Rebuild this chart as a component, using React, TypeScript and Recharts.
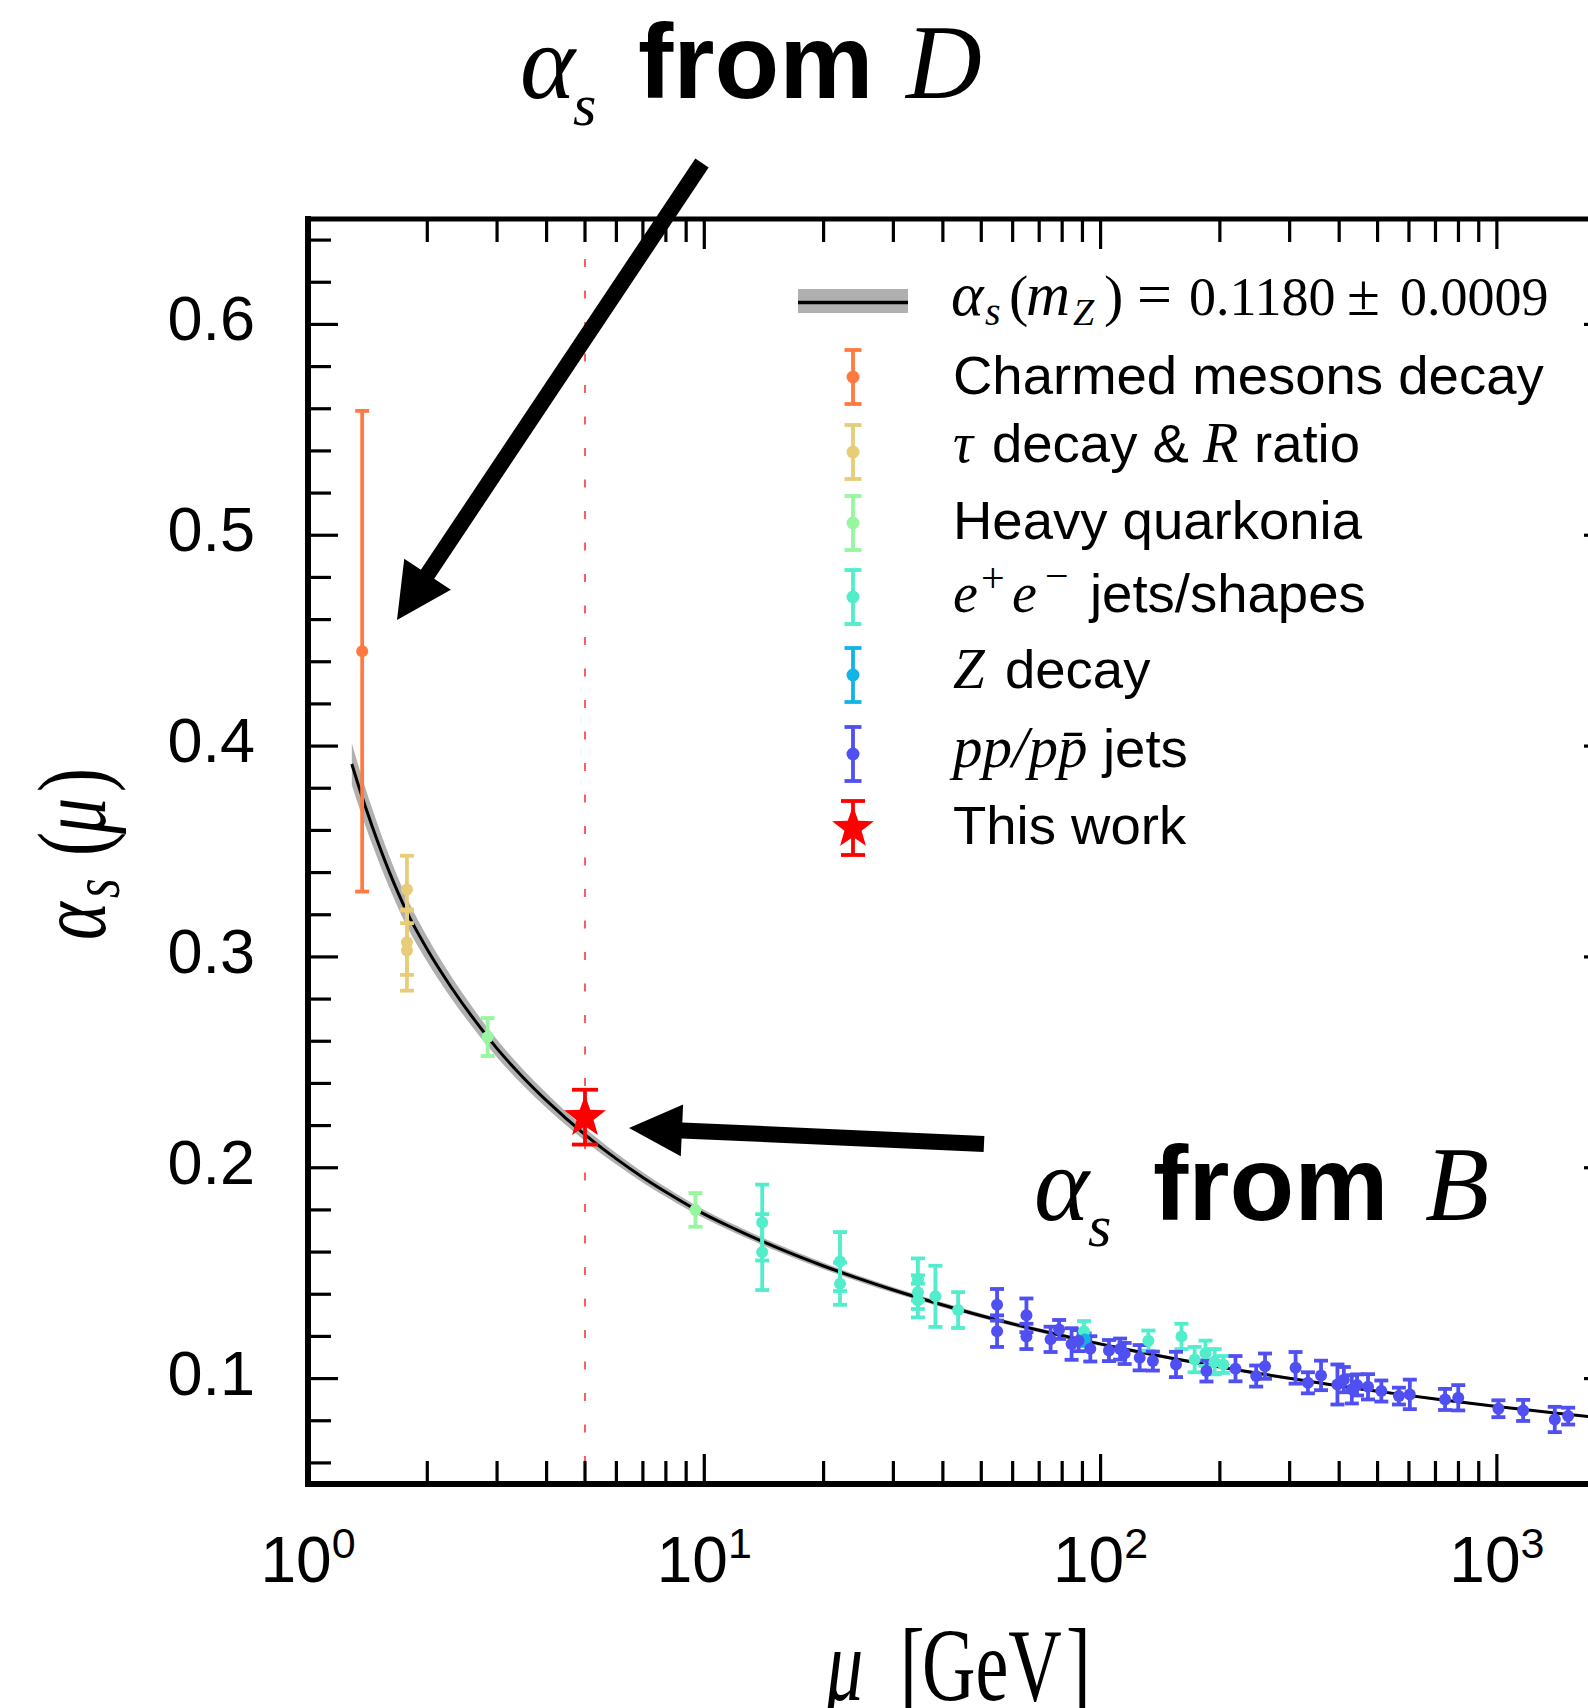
import React from 'react';
import { ComposedChart, XAxis, YAxis, Scatter, ErrorBar, Line, Area, ReferenceLine, Legend } from 'recharts';

// ---------------- data ----------------
const charmedData = [{ mu: 1.37, a: 0.445, e: 0.114 }];
const tauData = [
  { mu: 1.777, a: 0.332, e: 0.016 },
  { mu: 1.777, a: 0.307, e: 0.0155 },
  { mu: 1.777, a: 0.303, e: 0.019 },
];
const quarkoniaData = [
  { mu: 2.84, a: 0.262, e: 0.009 },
  { mu: 9.5, a: 0.180, e: 0.008 },
];
const eeData = [
  { mu: 14.0, a: 0.174, e: 0.018 },
  { mu: 14.0, a: 0.160, e: 0.018 },
  { mu: 22.0, a: 0.1555, e: 0.014 },
  { mu: 22.0, a: 0.145, e: 0.010 },
  { mu: 34.6, a: 0.147, e: 0.010 },
  { mu: 34.6, a: 0.141, e: 0.008 },
  { mu: 34.6, a: 0.137, e: 0.008 },
  { mu: 38.3, a: 0.139, e: 0.0145 },
  { mu: 43.7, a: 0.1325, e: 0.0085 },
  { mu: 90.8, a: 0.1225, e: 0.0048 },
  { mu: 132, a: 0.118, e: 0.0048 },
  { mu: 160, a: 0.120, e: 0.006 },
  { mu: 172.7, a: 0.109, e: 0.006 },
  { mu: 184, a: 0.112, e: 0.006 },
  { mu: 194, a: 0.108, e: 0.006 },
  { mu: 204, a: 0.1067, e: 0.004 },
];
const zDecayData = [{ mu: 91.19, a: 0.1185, e: 0.003 }];
const ppData = [
  { mu: 54.8, a: 0.135, e: 0.0075 },
  { mu: 54.8, a: 0.1225, e: 0.0075 },
  { mu: 65, a: 0.130, e: 0.008 },
  { mu: 65, a: 0.120, e: 0.006 },
  { mu: 74.8, a: 0.1186, e: 0.006 },
  { mu: 78.6, a: 0.1233, e: 0.0045 },
  { mu: 84.5, a: 0.1164, e: 0.0075 },
  { mu: 88, a: 0.118, e: 0.005 },
  { mu: 94.2, a: 0.1141, e: 0.006 },
  { mu: 105, a: 0.1133, e: 0.005 },
  { mu: 112, a: 0.114, e: 0.005 },
  { mu: 115, a: 0.1119, e: 0.005 },
  { mu: 125.5, a: 0.1099, e: 0.006 },
  { mu: 135.5, a: 0.1083, e: 0.0045 },
  { mu: 155, a: 0.1067, e: 0.006 },
  { mu: 185, a: 0.1036, e: 0.005 },
  { mu: 219, a: 0.1047, e: 0.006 },
  { mu: 247, a: 0.1012, e: 0.005 },
  { mu: 260, a: 0.1059, e: 0.006 },
  { mu: 310.5, a: 0.1051, e: 0.0075 },
  { mu: 333.6, a: 0.098, e: 0.005 },
  { mu: 360, a: 0.1015, e: 0.007 },
  { mu: 396, a: 0.0972, e: 0.0095 },
  { mu: 411, a: 0.0995, e: 0.006 },
  { mu: 430.5, a: 0.0949, e: 0.0067 },
  { mu: 443.8, a: 0.097, e: 0.005 },
  { mu: 473, a: 0.0961, e: 0.006 },
  { mu: 511, a: 0.0941, e: 0.005 },
  { mu: 566, a: 0.0917, e: 0.004 },
  { mu: 603, a: 0.0925, e: 0.007 },
  { mu: 740, a: 0.0901, e: 0.005 },
  { mu: 799, a: 0.0909, e: 0.006 },
  { mu: 1009, a: 0.0857, e: 0.004 },
  { mu: 1165, a: 0.0849, e: 0.005 },
  { mu: 1400, a: 0.0806, e: 0.006 },
  { mu: 1513, a: 0.0822, e: 0.004 },
];
const thisWorkData = [{ mu: 5.0, a: 0.224, e: 0.013 }];

// running coupling curve
const CURVE_MU = [1.29, 1.35, 1.45, 1.6, 1.777, 2.0, 2.3, 2.6, 3.0, 3.5, 4.0, 5.0, 6.0, 7.0, 8.0, 10, 12, 15, 20, 25, 30, 40, 50, 70, 91.19, 120, 150, 200, 300, 400, 500, 700, 1000, 1400, 1975];
const CURVE_A = [0.3915, 0.3795, 0.3622, 0.3408, 0.3212, 0.3035, 0.2855, 0.2714, 0.2565, 0.2426, 0.2318, 0.2157, 0.2042, 0.1954, 0.1885, 0.1780, 0.1708, 0.1627, 0.1534, 0.1469, 0.1420, 0.1349, 0.1298, 0.1229, 0.1180, 0.1133, 0.1098, 0.1055, 0.1001, 0.0965, 0.0940, 0.0903, 0.0868, 0.0837, 0.0807];
const CURVE_HALF = [0.0099, 0.0093, 0.0085, 0.0075, 0.0067, 0.0059, 0.0052, 0.0047, 0.0042, 0.0038, 0.0035, 0.003, 0.0027, 0.0025, 0.0023, 0.002, 0.0019, 0.0017, 0.0015, 0.0014, 0.0013, 0.0012, 0.0011, 0.001, 0.0009, 0.00084, 0.00078, 0.00072, 0.00065, 0.0006, 0.00057, 0.00053, 0.00049, 0.00045, 0.00042];

const curveData = CURVE_MU.map((mu, i) => ({ mu, a: CURVE_A[i] }));
const bandData = CURVE_MU.map((mu, i) => ({ mu, band: [CURVE_A[i] - CURVE_HALF[i], CURVE_A[i] + CURVE_HALF[i]] }));

const X_TICKS = [1, 2, 3, 4, 5, 6, 7, 8, 9, 10, 20, 30, 40, 50, 60, 70, 80, 90, 100, 200, 300, 400, 500, 600, 700, 800, 900, 1000];
const X_MAJOR_EXP: Record<number, string> = { 1: '0', 10: '1', 100: '2', 1000: '3' };
const Y_TICKS = [0.06, 0.08, 0.1, 0.12, 0.14, 0.16, 0.18, 0.2, 0.22, 0.24, 0.26, 0.28, 0.3, 0.32, 0.34, 0.36, 0.38, 0.4, 0.42, 0.44, 0.46, 0.48, 0.5, 0.52, 0.54, 0.56, 0.58, 0.6, 0.62, 0.64];
const X_DOMAIN: [number, number] = [1, 1975];
const Y_DOMAIN: [number, number] = [0.05, 0.65];
const B_SCALE = 5.0;

const COLORS = {
  charmed: '#FF7A40',
  tau: '#E8CD78',
  quarkonia: '#98F5A0',
  ee: '#52EDCB',
  z: '#12B4E6',
  pp: '#5050F2',
  star: '#FF0000',
};

// ---------------- layout ----------------
const PAGE_W = 1588;
const PAGE_H = 1708;
const CHART_W = 1640;
const PLOT_LEFT = 308;
const PLOT_TOP = 219;
const PLOT_BOTTOM = 1484;
const PLOT_RIGHT = 1614;
const SANS = "'Liberation Sans', Arial, Helvetica, sans-serif";
const SERIF = "'Liberation Serif', 'Times New Roman', serif";

const isMajorY = (v: number) => Math.abs(v * 10 - Math.round(v * 10)) < 1e-6;

const LeftTick = (p: any) => {
  const { x, y, payload } = p;
  const v = payload.value;
  const major = isMajorY(v);
  return (
    <g>
      <line x1={x} y1={y} x2={x + (major ? 30 : 23)} y2={y} stroke="#000" strokeWidth={3.2} />
      {major && (
        <text x={x - 53} y={y + 16} textAnchor="end" fontFamily={SANS} fontSize={63} fill="#000">
          {v.toFixed(1)}
        </text>
      )}
    </g>
  );
};
const RightTick = (p: any) => {
  const { x, y, payload } = p;
  const major = isMajorY(payload.value);
  return <line x1={x} y1={y} x2={x - (major ? 30 : 23)} y2={y} stroke="#000" strokeWidth={3.2} />;
};
const BottomTick = (p: any) => {
  const { x, y, payload } = p;
  const exp = X_MAJOR_EXP[payload.value];
  const major = exp !== undefined;
  return (
    <g>
      <line x1={x} y1={y} x2={x} y2={y - (major ? 30 : 23)} stroke="#000" strokeWidth={3.2} />
      {major && (
        <text x={x} y={y + 98} textAnchor="middle" fontFamily={SANS} fontSize={64} fill="#000">
          10<tspan fontSize={43} dy={-24}>{exp}</tspan>
        </text>
      )}
    </g>
  );
};
const TopTick = (p: any) => {
  const { x, y, payload } = p;
  const major = X_MAJOR_EXP[payload.value] !== undefined;
  return <line x1={x} y1={y} x2={x} y2={y + (major ? 30 : 23)} stroke="#000" strokeWidth={3.2} />;
};

const dot = (color: string, r = 6) => (props: any) =>
  props.cx == null ? null : <circle cx={props.cx} cy={props.cy} r={r} fill={color} />;

const starPath = (cx: number, cy: number, R: number, r: number) => {
  const pts: string[] = [];
  for (let i = 0; i < 10; i++) {
    const ang = -Math.PI / 2 + (i * Math.PI) / 5;
    const rad = i % 2 === 0 ? R : r;
    pts.push(`${cx + rad * Math.cos(ang)},${cy + rad * Math.sin(ang)}`);
  }
  return pts.join(' ');
};
const starShape = (props: any) =>
  props.cx == null ? null : <polygon points={starPath(props.cx, props.cy, 22, 9)} fill={COLORS.star} />;

// ---------------- legend ----------------
const LEG_BAR_X = 853;
const LEG_TEXT_X = 953;
const legendRows = [
  { key: 'charmed', color: COLORS.charmed, cy: 377 },
  { key: 'tau', color: COLORS.tau, cy: 452 },
  { key: 'quarkonia', color: COLORS.quarkonia, cy: 523 },
  { key: 'ee', color: COLORS.ee, cy: 597 },
  { key: 'z', color: COLORS.z, cy: 675 },
  { key: 'pp', color: COLORS.pp, cy: 754 },
];

const LegendBar = ({ color, cy }: { color: string; cy: number }) => (
  <g>
    <line x1={LEG_BAR_X} y1={cy - 27} x2={LEG_BAR_X} y2={cy + 27} stroke={color} strokeWidth={3.8} />
    <line x1={LEG_BAR_X - 8.5} y1={cy - 27} x2={LEG_BAR_X + 8.5} y2={cy - 27} stroke={color} strokeWidth={3.8} />
    <line x1={LEG_BAR_X - 8.5} y1={cy + 27} x2={LEG_BAR_X + 8.5} y2={cy + 27} stroke={color} strokeWidth={3.8} />
    <circle cx={LEG_BAR_X} cy={cy} r={6.5} fill={color} />
  </g>
);

const LegendContent = () => (
  <svg width={CHART_W} height={PAGE_H} style={{ position: 'absolute', left: 0, top: 0 }}>
    <rect x={798} y={289} width={110} height={24} fill="#b0b0b0" />
    <line x1={798} y1={302.5} x2={908} y2={302.5} stroke="#000" strokeWidth={3.5} />
    <g fontFamily={SERIF} fontSize={54} fill="#000">
      <text x={951} y={315} fontSize={62} fontStyle="italic">α</text>
      <text x={985} y={325} fontSize={40} fontStyle="italic">s</text>
      <text x={1009} y={315} fontSize={58}>(</text>
      <text x={1026} y={315} fontSize={61} fontStyle="italic">m</text>
      <text x={1073} y={325} fontSize={38} fontStyle="italic">Z</text>
      <text x={1104} y={315} fontSize={58}>)</text>
      <text x={1137} y={315} fontSize={62}>=</text>
      <text x={1189} y={315}>0.1180</text>
      <text x={1347} y={315} fontSize={60}>±</text>
      <text x={1400} y={315}>0.0009</text>
    </g>

    {legendRows.map((r) => (
      <LegendBar key={r.key} color={r.color} cy={r.cy} />
    ))}

    <line x1={LEG_BAR_X} y1={801} x2={LEG_BAR_X} y2={855} stroke={COLORS.star} strokeWidth={3.8} />
    <line x1={LEG_BAR_X - 12} y1={801} x2={LEG_BAR_X + 12} y2={801} stroke={COLORS.star} strokeWidth={3.8} />
    <line x1={LEG_BAR_X - 12} y1={855} x2={LEG_BAR_X + 12} y2={855} stroke={COLORS.star} strokeWidth={3.8} />
    <polygon points={starPath(LEG_BAR_X, 828, 22, 9)} fill={COLORS.star} />

    <g fontFamily={SANS} fontSize={54.5} fill="#000">
      <text x={LEG_TEXT_X} y={394}>Charmed mesons decay</text>

      <text x={LEG_TEXT_X} y={462} fontFamily={SERIF} fontStyle="italic" fontSize={56}>τ</text>
      <text x={992} y={462}>decay &amp;</text>
      <text x={1203} y={462} fontFamily={SERIF} fontStyle="italic" fontSize={58}>R</text>
      <text x={1254} y={462}>ratio</text>

      <text x={LEG_TEXT_X} y={539}>Heavy quarkonia</text>

      <text x={LEG_TEXT_X} y={612} fontFamily={SERIF} fontStyle="italic" fontSize={56}>e</text>
      <text x={981} y={592} fontFamily={SERIF} fontSize={42}>+</text>
      <text x={1012} y={612} fontFamily={SERIF} fontStyle="italic" fontSize={56}>e</text>
      <text x={1045} y={590} fontFamily={SERIF} fontSize={42}>−</text>
      <text x={1090} y={612}>jets/shapes</text>

      <text x={LEG_TEXT_X} y={688} fontFamily={SERIF} fontStyle="italic" fontSize={57}>Z</text>
      <text x={1005} y={688}>decay</text>

      <text x={LEG_TEXT_X} y={767} fontFamily={SERIF} fontStyle="italic" fontSize={59}>pp/pp̄</text>
      <text x={1103} y={767}>jets</text>

      <text x={LEG_TEXT_X} y={844}>This work</text>
    </g>
  </svg>
);

// ---------------- annotations ----------------
function arrowPoints(tail: number[], tip: number[], shaft: number, headLen: number, headHalf: number) {
  const dx = tip[0] - tail[0];
  const dy = tip[1] - tail[1];
  const L = Math.hypot(dx, dy);
  const ux = dx / L, uy = dy / L;
  const px = -uy, py = ux;
  const bx = tip[0] - ux * headLen, by = tip[1] - uy * headLen;
  const s = shaft / 2;
  return [
    [tail[0] + px * s, tail[1] + py * s],
    [bx + px * s, by + py * s],
    [bx + px * headHalf, by + py * headHalf],
    tip,
    [bx - px * headHalf, by - py * headHalf],
    [bx - px * s, by - py * s],
    [tail[0] - px * s, tail[1] - py * s],
  ]
    .map((p) => p.join(','))
    .join(' ');
}

const Overlay = () => (
  <svg width={PAGE_W} height={PAGE_H} style={{ position: 'absolute', left: 0, top: 0, pointerEvents: 'none' }}>
    {/* title D */}
    <text x={520} y={98} fontFamily={SERIF} fontStyle="italic" fontSize={105}>α</text>
    <text x={573} y={125} fontFamily={SERIF} fontStyle="italic" fontSize={60}>s</text>
    <text x={638} y={98} fontFamily={SANS} fontWeight="bold" fontSize={106}>from</text>
    <text x={906} y={98} fontFamily={SERIF} fontStyle="italic" fontSize={105}>D</text>
    {/* title B */}
    <text x={1034} y={1220} fontFamily={SERIF} fontStyle="italic" fontSize={105}>α</text>
    <text x={1088} y={1246} fontFamily={SERIF} fontStyle="italic" fontSize={60}>s</text>
    <text x={1153} y={1220} fontFamily={SANS} fontWeight="bold" fontSize={106}>from</text>
    <text x={1425} y={1220} fontFamily={SERIF} fontStyle="italic" fontSize={105}>B</text>

    <polygon points={arrowPoints([702, 163], [397, 620], 16, 55, 28)} fill="#000" />
    <polygon points={arrowPoints([984, 1144], [629, 1128], 16, 53, 26)} fill="#000" />

    {/* y axis title */}
    <g transform="translate(105,940) rotate(-90)">
      <g transform="scale(1,1.35)" fontFamily={SERIF} fontSize={72} fill="#000">
        <text x={0} y={0} fontStyle="italic">α</text>
        <text x={42} y={10} fontStyle="italic" fontSize={50}>s</text>
        <text x={84} y={0}>(</text>
        <text x={106} y={0} fontStyle="italic">μ</text>
        <text x={148} y={0}>)</text>
      </g>
    </g>
    {/* x axis title */}
    <text transform="translate(0,1700) scale(1,1.4)" fontFamily={SERIF} fontSize={74} fill="#000">
      <tspan x={826} fontStyle="italic">μ</tspan>
      <tspan x={900}>[</tspan>
      <tspan x={922}>GeV</tspan>
      <tspan x={1066}>]</tspan>
    </text>
  </svg>
);

export default function App() {
  const ax = { xAxisId: 'b', yAxisId: 'l' };
  return (
    <div style={{ position: 'absolute', left: 0, top: 0, width: PAGE_W, height: PAGE_H, overflow: 'hidden', background: '#fff' }}>
      <ComposedChart width={CHART_W} height={PAGE_H} margin={{ top: 0, right: 0, bottom: 0, left: 0 }}>
        <XAxis
          xAxisId="b"
          orientation="bottom"
          dataKey="mu"
          type="number"
          scale="log"
          domain={X_DOMAIN}
          allowDataOverflow
          ticks={X_TICKS}
          interval={0}
          tick={BottomTick}
          tickLine={false}
          tickSize={0}
          tickMargin={0}
          height={PAGE_H - PLOT_BOTTOM}
          axisLine={{ stroke: '#000', strokeWidth: 6, strokeLinecap: 'square' }}
        />
        <XAxis
          xAxisId="t"
          orientation="top"
          dataKey="mu"
          type="number"
          scale="log"
          domain={X_DOMAIN}
          allowDataOverflow
          ticks={X_TICKS}
          interval={0}
          tick={TopTick}
          tickLine={false}
          tickSize={0}
          tickMargin={0}
          height={PLOT_TOP}
          axisLine={{ stroke: '#000', strokeWidth: 5, strokeLinecap: 'square' }}
        />
        <YAxis
          yAxisId="l"
          orientation="left"
          dataKey="a"
          type="number"
          domain={Y_DOMAIN}
          allowDataOverflow
          ticks={Y_TICKS}
          interval={0}
          tick={LeftTick}
          tickLine={false}
          tickSize={0}
          tickMargin={0}
          width={PLOT_LEFT}
          axisLine={{ stroke: '#000', strokeWidth: 6, strokeLinecap: 'square' }}
        />
        <YAxis
          yAxisId="r"
          orientation="right"
          dataKey="a"
          type="number"
          domain={Y_DOMAIN}
          allowDataOverflow
          ticks={Y_TICKS}
          interval={0}
          tick={RightTick}
          tickLine={false}
          tickSize={0}
          tickMargin={0}
          width={CHART_W - PLOT_RIGHT}
          axisLine={{ stroke: '#000', strokeWidth: 6 }}
        />

        <Area {...ax} data={bandData} dataKey="band" type="monotone" stroke="none" fill="#b0b0b0" fillOpacity={1} isAnimationActive={false} dot={false} activeDot={false} />
        <Line {...ax} data={curveData} dataKey="a" type="monotone" stroke="#000" strokeWidth={3} dot={false} activeDot={false} isAnimationActive={false} />

        <ReferenceLine
          {...ax}
          segment={[{ x: B_SCALE, y: 0.631 }, { x: B_SCALE, y: 0.05 }]}
          stroke="#ff5c5c"
          strokeWidth={2}
          strokeDasharray="8 23.5"
          ifOverflow="visible"
        />

        <Scatter {...ax} name="Charmed mesons decay" data={charmedData} fill={COLORS.charmed} shape={dot(COLORS.charmed)} isAnimationActive={false}>
          <ErrorBar dataKey="e" direction="y" width={7} stroke={COLORS.charmed} strokeWidth={3.8} isAnimationActive={false} />
        </Scatter>
        <Scatter {...ax} name="tau decay & R ratio" data={tauData} fill={COLORS.tau} shape={dot(COLORS.tau)} isAnimationActive={false}>
          <ErrorBar dataKey="e" direction="y" width={7} stroke={COLORS.tau} strokeWidth={3.8} isAnimationActive={false} />
        </Scatter>
        <Scatter {...ax} name="Heavy quarkonia" data={quarkoniaData} fill={COLORS.quarkonia} shape={dot(COLORS.quarkonia)} isAnimationActive={false}>
          <ErrorBar dataKey="e" direction="y" width={7} stroke={COLORS.quarkonia} strokeWidth={3.8} isAnimationActive={false} />
        </Scatter>
        <Scatter {...ax} name="e+e- jets/shapes" data={eeData} fill={COLORS.ee} shape={dot(COLORS.ee)} isAnimationActive={false}>
          <ErrorBar dataKey="e" direction="y" width={7} stroke={COLORS.ee} strokeWidth={3.8} isAnimationActive={false} />
        </Scatter>
        <Scatter {...ax} name="Z decay" data={zDecayData} fill={COLORS.z} shape={dot(COLORS.z)} isAnimationActive={false}>
          <ErrorBar dataKey="e" direction="y" width={7} stroke={COLORS.z} strokeWidth={3.8} isAnimationActive={false} />
        </Scatter>
        <Scatter {...ax} name="pp/ppbar jets" data={ppData} fill={COLORS.pp} shape={dot(COLORS.pp)} isAnimationActive={false}>
          <ErrorBar dataKey="e" direction="y" width={7} stroke={COLORS.pp} strokeWidth={3.8} isAnimationActive={false} />
        </Scatter>
        <Scatter {...ax} name="This work" data={thisWorkData} fill={COLORS.star} shape={starShape} isAnimationActive={false}>
          <ErrorBar dataKey="e" direction="y" width={13} stroke={COLORS.star} strokeWidth={3.8} isAnimationActive={false} />
        </Scatter>

        <Legend
          layout="horizontal"
          verticalAlign="middle"
          align="center"
          content={LegendContent}
          wrapperStyle={{ left: 0, top: 0, width: CHART_W, height: PAGE_H, pointerEvents: 'none' }}
        />
      </ComposedChart>
      <Overlay />
    </div>
  );
}
